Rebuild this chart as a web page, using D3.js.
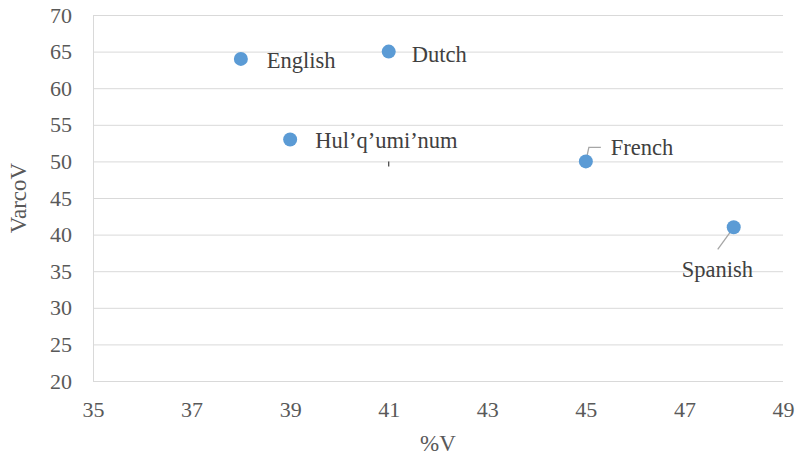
<!DOCTYPE html>
<html><head><meta charset="utf-8">
<script src="https://cdn.jsdelivr.net/npm/d3@7"></script>
</head><body style="margin:0;background:#fff"><svg id="c" width="798" height="461" style="display:block"></svg>
<script>
const languages = ["English","Dutch","Hul’q’umi’num","French","Spanish"];
const percentV = [38, 41, 39, 45, 48];
const varcoV = [64, 65, 53, 50, 41];
const xTicks = [35,37,39,41,43,45,47,49];
const yTicks = [20,25,30,35,40,45,50,55,60,65,70];

const FONT = "'Liberation Serif'";
const svg = d3.select("#c");
const m = {l:93, r:15, t:15, b:80};
const W = 798, H = 461;
const x = d3.scaleLinear().domain([35,49]).range([m.l, W-m.r]);
const y = d3.scaleLinear().domain([20,70]).range([H-m.b, m.t]);

svg.append("g").selectAll("line").data(yTicks).join("line")
  .attr("x1", m.l).attr("x2", W-m.r)
  .attr("y1", d=>y(d)+0.5).attr("y2", d=>y(d)+0.5)
  .attr("stroke", "#d9d9d9").attr("stroke-width", 1);
svg.append("line").attr("x1", m.l+0.5).attr("x2", m.l+0.5).attr("y1", y(70)).attr("y2", y(20))
  .attr("stroke","#d9d9d9");

const yAxis = d3.axisLeft(y).tickValues(yTicks).tickSize(0).tickPadding(21);
const gy = svg.append("g").attr("transform",`translate(${m.l},0)`).call(yAxis);
gy.attr("font-family", null).attr("font-size", null);
gy.select(".domain").remove();
gy.selectAll("text").style("font-size","22px").style("font-family",FONT).attr("fill","#595959");

const xAxis = d3.axisBottom(x).tickValues(xTicks).tickSize(0).tickPadding(20);
const gx = svg.append("g").attr("transform",`translate(0,${H-m.b})`).call(xAxis);
gx.attr("font-family", null).attr("font-size", null);
gx.select(".domain").remove();
gx.selectAll("text").style("font-size","22px").style("font-family",FONT).attr("fill","#595959");

svg.append("text").attr("transform",`translate(26,${(y(70)+y(20))/2}) rotate(-90)`)
  .attr("text-anchor","middle").style("font-size","23px").style("font-family",FONT).attr("fill","#595959").text("VarcoV");
svg.append("text").attr("x",(x(35)+x(49))/2).attr("y",451)
  .attr("text-anchor","middle").style("font-size","23px").style("font-family",FONT).attr("fill","#595959").text("%V");

const data = languages.map((l,i)=>({l, x:percentV[i], y:varcoV[i]}));
const fr = data[3], sp = data[4], hu = data[2];
svg.append("polyline").attr("points",
  `${x(fr.x)},${y(fr.y)} ${x(fr.x)+3},${y(fr.y)-14} ${x(fr.x)+15},${y(fr.y)-14}`)
  .attr("fill","none").attr("stroke","#a6a6a6").attr("stroke-width",1.3);
svg.append("line").attr("x1",x(sp.x)).attr("y1",y(sp.y)).attr("x2",x(sp.x)-16).attr("y2",y(sp.y)+22)
  .attr("stroke","#a6a6a6").attr("stroke-width",1.3);
svg.append("line").attr("x1",x(41)).attr("x2",x(41)).attr("y1",y(hu.y)+22).attr("y2",y(hu.y)+27)
  .attr("stroke","#404040").attr("stroke-width",1.2);

svg.append("g").selectAll("circle").data(data).join("circle")
  .attr("cx",d=>x(d.x)).attr("cy",d=>y(d.y)).attr("r",7)
  .attr("fill","#5b9bd5");

const offs = [[26,9],[23,10],[25,9],[25,-6],[-52,50]];
svg.append("g").selectAll("text").data(data).join("text")
  .attr("x",(d,i)=>x(d.x)+offs[i][0]).attr("y",(d,i)=>y(d.y)+offs[i][1])
  .style("font-size","22.5px").style("font-family",FONT).attr("fill","#404040").text(d=>d.l);
</script></body></html>
